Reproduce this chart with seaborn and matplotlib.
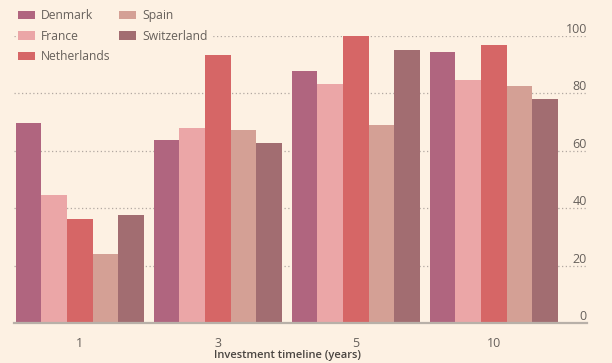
import numpy as np
import pandas as pd
import matplotlib
matplotlib.use('Agg')
import matplotlib.pyplot as plt
import seaborn as sns

# values
timelines = ['1', '3', '5', '10']
countries = ['Denmark', 'France', 'Netherlands', 'Spain', 'Switzerland']
denmark = [69.7, 63.6, 87.8, 94.3]
france = [44.5, 67.7, 83.3, 84.6]
netherlands = [36.3, 93.4, 100.0, 96.8]
spain = [24.0, 67.1, 69.0, 82.3]
switzerland = [37.6, 62.6, 95.1, 77.9]
yticks = [0, 20, 40, 60, 80, 100]

colors = ['#b0657f', '#eba6a7', '#d66666', '#d4a095', '#a26d71']
bg = '#fdf1e3'
text_col = '#66605b'

df = pd.DataFrame({
    'timeline': np.repeat([timelines], len(countries), axis=0).ravel(),
    'country': np.repeat(countries, len(timelines)),
    'value': np.concatenate([denmark, france, netherlands, spain, switzerland]),
})

sns.set_style('white')
plt.rcParams['font.family'] = ['Open Sans', 'DejaVu Sans']

fig = plt.figure(figsize=(6.12, 3.63), dpi=100, facecolor=bg)
ax = fig.add_axes([0.0224, 0.110, 0.9366, 0.792])
ax.set_facecolor(bg)

sns.barplot(data=df, x='timeline', y='value', hue='country', order=timelines,
            hue_order=countries, palette=colors, saturation=1, width=0.93,
            linewidth=0, errorbar=None, ax=ax, zorder=3)

ax.set_xlim(-0.48, 3.675)
ax.set_ylim(0, 100)
ax.set_yticks(yticks)
for v in yticks[1:]:
    ax.axhline(v, color='#b2a9a2', lw=0.9, ls=(0, (1, 2)), zorder=1)

for s in ['top', 'right', 'left']:
    ax.spines[s].set_visible(False)
ax.spines['bottom'].set_color('#b8b0a8')
ax.spines['bottom'].set_linewidth(1.6)
ax.spines['bottom'].set_zorder(4)

ax.tick_params(axis='x', length=0, pad=10, labelsize=9, labelcolor=text_col)
ax.tick_params(axis='y', length=0, pad=0, labelsize=9, labelcolor=text_col,
               labelleft=False, labelright=True)
for lab in ax.get_yticklabels():
    lab.set_ha('right')
    lab.set_va('bottom')

ax.set_ylabel('')
ax.set_xlabel('Investment timeline (years)', fontsize=8, fontweight='semibold',
              color='#4a4541')
ax.xaxis.set_label_coords(0.478, -0.092)

leg = ax.legend(ncol=2, loc='upper left', bbox_to_anchor=(0.027, 0.98),
                bbox_transform=fig.transFigure, frameon=True, fontsize=8.7,
                handlelength=1.4, handleheight=0.72, handletextpad=0.5,
                labelspacing=0.62, columnspacing=0.7, borderpad=0.15,
                borderaxespad=0)
leg.get_frame().set_facecolor(bg)
leg.get_frame().set_edgecolor(bg)
leg.get_frame().set_alpha(1)
leg.get_frame().set_boxstyle('square', pad=0)
for t in leg.get_texts():
    t.set_color(text_col)
leg.set_zorder(2)

fig.savefig('out.png', dpi=100, facecolor=bg)
